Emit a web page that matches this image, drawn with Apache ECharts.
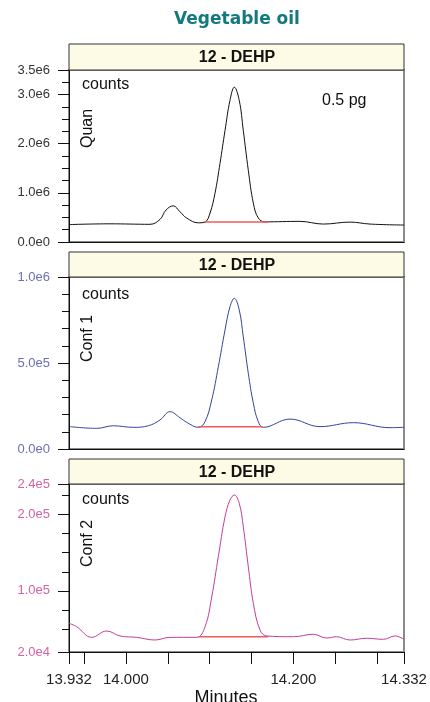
<!DOCTYPE html>
<html>
<head>
    <title>Vegetable oil - 12 - DEHP</title>
    <meta charset="utf-8"/>
    <script src="https://cdn.jsdelivr.net/npm/echarts@6/dist/echarts.min.js"></script>
    <style>
        html, body { margin: 0; padding: 0; background: #fff; }
        #myChart { width: 430px; height: 702px; }
    </style>
</head>
<body>
    <div id="myChart"></div>
<script type="text/javascript">
    // retention time (minutes) and abundance (counts)
    var quanTime = [13.9332, 13.981, 14.0287, 14.0407, 14.0478, 14.0565, 14.0645, 14.0725, 14.0864, 14.0944,
        14.1004, 14.1063, 14.1123, 14.1183, 14.1242, 14.1294, 14.1353, 14.1401, 14.1461, 14.1521,
        14.158, 14.166, 14.2078, 14.2356, 14.2675, 14.2914, 14.332];
    var quanCounts = [355000, 370000, 360000, 460000, 650000, 736000, 615000, 487000, 390000, 405000,
        590000, 990000, 1600000, 2270000, 2880000, 3150000, 2880000, 2270000, 1460000, 790000,
        490000, 410000, 420000, 365000, 405000, 365000, 345000];

    var conf1Time = [13.9332, 13.9651, 13.9849, 14.0088, 14.0267, 14.0407, 14.0526, 14.0645, 14.0725, 14.0864,
        14.0944, 14.1024, 14.1103, 14.1183, 14.1242, 14.1294, 14.1353, 14.1401, 14.1461, 14.1521,
        14.158, 14.164, 14.1959, 14.2317, 14.2715, 14.3153, 14.332];
    var conf1Counts = [130000, 120000, 135000, 126000, 135000, 169000, 217000, 182000, 155000, 126000,
        159000, 285000, 478000, 692000, 827000, 876000, 808000, 653000, 440000, 266000,
        159000, 126000, 174000, 130000, 153000, 124000, 126000];

    var conf2Time = [13.932, 13.9412, 13.9591, 13.977, 13.9929, 14.0128, 14.0347, 14.0526, 14.0845, 14.0944,
        14.1024, 14.1103, 14.1183, 14.1242, 14.1294, 14.1353, 14.1401, 14.1461, 14.1521, 14.1601,
        14.1681, 14.2, 14.2237, 14.2397, 14.2516, 14.2675, 14.2875, 14.3073, 14.3213, 14.332];
    var conf2Counts = [57600, 53100, 39200, 47500, 41000, 39200, 35700, 39200, 39200, 53000,
        92000, 145000, 197000, 219000, 225600, 214700, 184000, 131700, 83800, 48800,
        41000, 40000, 43200, 38300, 40000, 35700, 38000, 36600, 41000, 36600];

    // integration baselines [start, end]
    var quanBaseTime = [14.094, 14.170];
    var quanBaseCounts = [406000, 406000];
    var conf1BaseTime = [14.0864, 14.1632];
    var conf1BaseCounts = [130000, 130000];
    var conf2BaseTime = [14.0864, 14.170];
    var conf2BaseCounts = [40000, 40000];

    var xTickValues = [13.932, 13.95, 14.0, 14.05, 14.1, 14.15, 14.2, 14.25, 14.3, 14.332];
    var xLabelValues = [13.932, 14.0, 14.2, 14.332];

    var quanLabels = [0, 1000000, 2000000, 3000000, 3500000];
    var quanMinor = [250000, 500000, 750000, 1250000, 1500000, 1750000, 2250000, 2500000, 2750000, 3250000];
    var conf1Labels = [0, 500000, 1000000];
    var conf1Minor = [100000, 200000, 300000, 400000, 600000, 700000, 800000, 900000];
    var conf2Labels = [20000, 100000, 200000, 240000];
    var conf2Minor = [50000, 75000, 125000, 150000, 175000, 225000];

    var FONT = '"Liberation Sans", Arial, Helvetica, sans-serif';
    var X_MIN = 13.932, X_MAX = 14.332;

    function zip(a, b) {
        return a.map(function (v, i) { return [v, b[i]]; });
    }
    function sciLabel(v) {
        return v.toExponential(1).replace('+', '');
    }

    function yAxes(grid, min, max, labels, minor, color) {
        return [{
            type: 'value', gridIndex: grid, min: min, max: max, position: 'left',
            axisLine: { show: true, lineStyle: { color: '#111', width: 1 } },
            axisTick: { show: true, length: 11, customValues: labels, lineStyle: { color: '#111' } },
            axisLabel: { customValues: labels, formatter: sciLabel, color: color, fontSize: 13, margin: 19, fontFamily: FONT },
            splitLine: { show: false }
        }, {
            type: 'value', gridIndex: grid, min: min, max: max, position: 'left',
            axisLine: { show: false },
            axisTick: { show: true, length: 7, customValues: minor, lineStyle: { color: '#111' } },
            axisLabel: { show: false },
            splitLine: { show: false }
        }];
    }

    function xAxis(grid, withLabels) {
        return {
            type: 'value', gridIndex: grid, min: X_MIN, max: X_MAX,
            axisLine: { show: true, onZero: false, lineStyle: { color: '#111', width: 1 } },
            axisTick: { show: withLabels, length: 12, customValues: xTickValues, lineStyle: { color: '#111' } },
            axisLabel: {
                show: withLabels, customValues: xLabelValues, color: '#222', fontSize: 15, margin: 20, fontFamily: FONT,
                formatter: function (v) { return v.toFixed(3); }
            },
            splitLine: { show: false }
        };
    }

    function trace(axis, time, counts, color) {
        return {
            type: 'line', xAxisIndex: axis, yAxisIndex: axis * 2, data: zip(time, counts),
            smooth: 0.4, showSymbol: false, silent: true,
            lineStyle: { color: color, width: 1 }
        };
    }
    function baseline(axis, time, counts) {
        return {
            type: 'line', xAxisIndex: axis, yAxisIndex: axis * 2, data: zip(time, counts),
            showSymbol: false, silent: true, z: 3,
            lineStyle: { color: '#ef5b5b', width: 1.5 }
        };
    }

    function header(top, h) {
        return [{
            type: 'rect', z: 100,
            shape: { x: 69, y: top, width: 335, height: h },
            style: { fill: '#fdfbe5', stroke: '#333', lineWidth: 1 }
        }, {
            type: 'text', z: 101, x: 237, y: top + h / 2 + 1,
            style: { text: '12 - DEHP', font: 'bold 16px ' + FONT, fill: '#111', textAlign: 'center', textVerticalAlign: 'middle' }
        }];
    }
    function note(x, y, text, rotate) {
        return {
            type: 'text', z: 101, x: x, y: y, rotation: rotate ? Math.PI / 2 : 0,
            style: { text: text, font: '16px ' + FONT, fill: '#111', textAlign: 'left', textVerticalAlign: 'middle' }
        };
    }

    var myChart = echarts.init(document.getElementById('myChart'));

    var grids = [
        { left: 69, top: 70, width: 335, height: 172 },
        { left: 69, top: 277, width: 335, height: 172 },
        { left: 69, top: 484, width: 335, height: 168 }
    ].map(function (g) {
        g.show = true; g.borderColor = '#8a8a8a'; g.borderWidth = 2; g.backgroundColor = '#fff';
        return g;
    });

    var option = {
        animation: false,
        backgroundColor: '#fff',
        grid: grids,
        xAxis: [xAxis(0, false), xAxis(1, false), xAxis(2, true)],
        yAxis: [].concat(
            yAxes(0, 0, 3500000, quanLabels, quanMinor, '#333'),
            yAxes(1, 0, 1000000, conf1Labels, conf1Minor, '#6a70b4'),
            yAxes(2, 20000, 240000, conf2Labels, conf2Minor, '#d462a8')
        ),
        series: [
            trace(0, quanTime, quanCounts, '#111'),
            baseline(0, quanBaseTime, quanBaseCounts),
            trace(1, conf1Time, conf1Counts, '#34449c'),
            baseline(1, conf1BaseTime, conf1BaseCounts),
            trace(2, conf2Time, conf2Counts, '#c13f98'),
            baseline(2, conf2BaseTime, conf2BaseCounts)
        ],
        graphic: [].concat(
            [{
                type: 'text', z: 101, x: 237, y: 20,
                style: { text: 'Vegetable oil', font: 'bold 17px "DejaVu Sans", sans-serif', fill: '#12797f', textAlign: 'center', textVerticalAlign: 'middle' }
            }],
            header(44, 26), header(252, 25), header(459, 25),
            [
                note(82, 85, 'counts'), note(88, 148, 'Quan', true), note(322, 101, '0.5 pg'),
                note(82, 295, 'counts'), note(88, 362, 'Conf 1', true),
                note(82, 500, 'counts'), note(88, 567, 'Conf 2', true),
                {
                    type: 'text', z: 101, x: 226, y: 698,
                    style: { text: 'Minutes', font: '18px ' + FONT, fill: '#111', textAlign: 'center', textVerticalAlign: 'middle' }
                }
            ]
        )
    };
    myChart.setOption(option);
</script>
</body>
</html>
